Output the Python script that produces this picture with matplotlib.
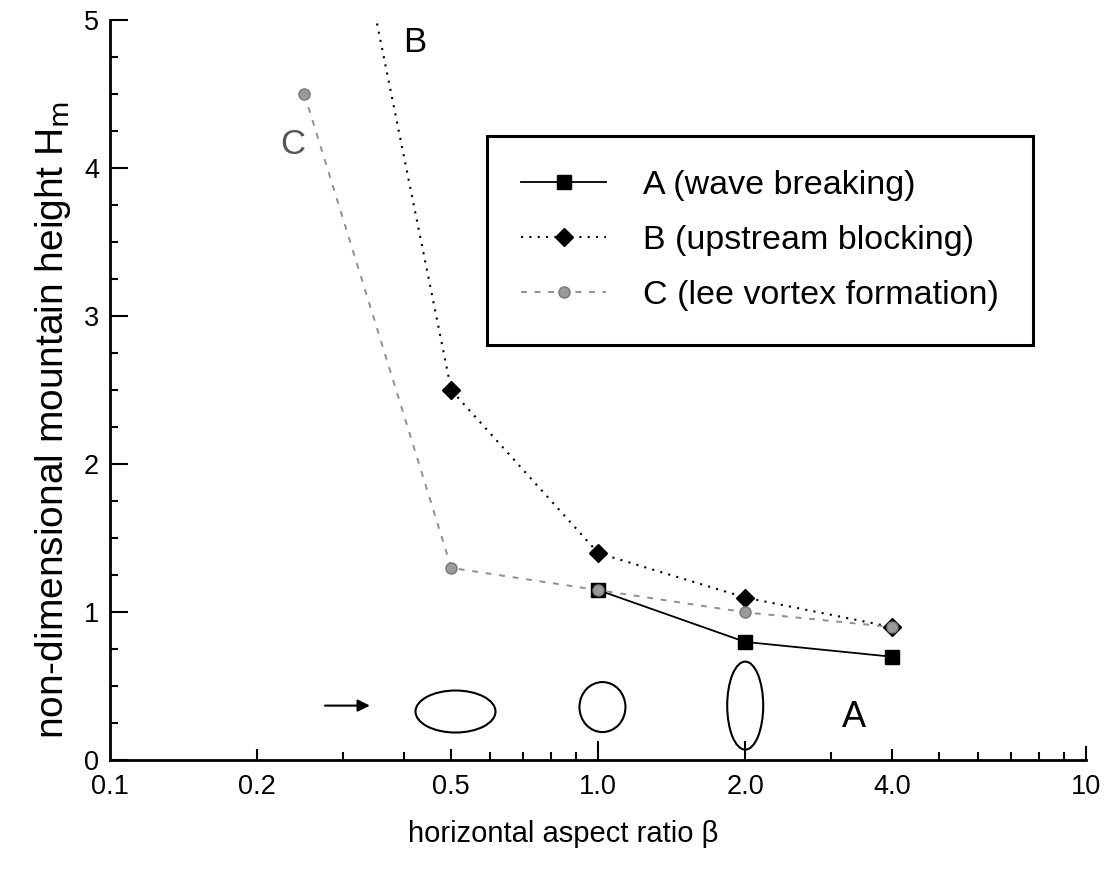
import matplotlib.pyplot as plt
from matplotlib.patches import Ellipse
from matplotlib import transforms

plt.rcParams["font.family"] = ["Liberation Sans", "DejaVu Sans"]

# regime boundaries
beta_a = [1.0, 2.0, 4.0]
hm_a = [1.15, 0.80, 0.70]

beta_b = [0.25, 0.5, 1.0, 2.0, 4.0]
hm_b = [7.4, 2.5, 1.4, 1.1, 0.9]

beta_c = [0.25, 0.5, 1.0, 2.0, 4.0]
hm_c = [4.5, 1.3, 1.15, 1.0, 0.9]

labels = ["A (wave breaking)", "B (upstream blocking)", "C (lee vortex formation)"]

x_ticks = [0.1, 0.2, 0.5, 1.0, 2.0, 4.0, 10]
x_ticklabels = ["0.1", "0.2", "0.5", "1.0", "2.0", "4.0", "10"]
x_minor = [0.3, 0.4, 0.6, 0.7, 0.8, 0.9, 3, 5, 6, 7, 8, 9]

# mountain footprint sketches: beta, height, width/height in pixels
shape_beta = [0.51, 1.02, 2.0]
shape_hm = [0.33, 0.36, 0.37]
shape_w = [80, 46, 36]
shape_h = [42, 50, 88]

fig = plt.figure(figsize=(11.12, 8.74), dpi=100)
ax = fig.add_axes([0.099, 0.130, 0.878, 0.847])

ax.plot(beta_a, hm_a, color="black", linestyle="-", linewidth=1.3,
        marker="s", markersize=10.5, label=labels[0])
ax.plot(beta_b, hm_b, color="black", linestyle=(0, (1, 3)), linewidth=1.5,
        marker="D", markersize=9, label=labels[1])
ax.plot(beta_c, hm_c, color="#8f8f8f", linestyle=(0, (3, 4)), linewidth=1.4,
        marker="o", markersize=8, markerfacecolor="#9a9a9a",
        markeredgecolor="#777777", label=labels[2])

ax.set_xscale("log")
ax.set_xlim(0.1, 10)
ax.set_ylim(0, 5)

ax.set_xticks(x_ticks, labels=x_ticklabels)
ax.set_xticks(x_minor, minor=True)
ax.set_xticklabels([], minor=True)
ax.set_yticks([0, 1, 2, 3, 4, 5])
ax.set_yticks([i * 0.25 for i in range(21)], minor=True)

ax.tick_params(axis="both", which="both", direction="in", width=1.5)
ax.tick_params(axis="both", which="major", length=13, labelsize=19.5)
ax.tick_params(axis="both", which="minor", length=6)
ax.tick_params(axis="x", which="major", pad=10)
ax.tick_params(axis="y", which="major", pad=8)
# 1.0 and 2.0 carry long ticks, the rest of the labelled ones are short
for tick, ln in zip(ax.xaxis.get_major_ticks(), [0, 8, 8, 14, 14, 8, 10]):
    tick.tick1line.set_markersize(ln)

for side in ["top", "right"]:
    ax.spines[side].set_visible(False)
for side in ["left", "bottom"]:
    ax.spines[side].set_linewidth(2.0)

ax.set_xlabel("horizontal aspect ratio β", fontsize=21, labelpad=14, x=0.464)
ax.set_ylabel(r"non-dimensional mountain height H$_{\mathrm{m}}$", fontsize=28,
              labelpad=8, y=0.46)

# region labels
ax.text(0.42, 4.85, "B", fontsize=25, ha="center", va="center")
ax.text(0.237, 4.16, "C", fontsize=25, ha="center", va="center", color="#555555")
ax.text(3.34, 0.29, "A", fontsize=26, ha="center", va="center")

# footprint ellipses, size in pixels at their data position
for bx, hy, w, h in zip(shape_beta, shape_hm, shape_w, shape_h):
    tr = fig.dpi_scale_trans + transforms.ScaledTranslation(bx, hy, ax.transData)
    ax.add_patch(Ellipse((0, 0), w / 100, h / 100, transform=tr,
                         fill=False, edgecolor="black", linewidth=1.5, clip_on=False))

ax.annotate("", xy=(0.345, 0.37), xytext=(0.272, 0.37),
            arrowprops=dict(arrowstyle="-|>", color="black", lw=1.5,
                            mutation_scale=18))

leg = ax.legend(loc="upper left", bbox_to_anchor=(0.386, 0.843), fontsize=24.5,
                frameon=True, fancybox=False, edgecolor="black", framealpha=1,
                borderpad=1.0, handlelength=2.5, handletextpad=1.1,
                labelspacing=0.7, borderaxespad=0)
leg.get_frame().set_linewidth(2.2)

fig.savefig("out.png", dpi=100)
